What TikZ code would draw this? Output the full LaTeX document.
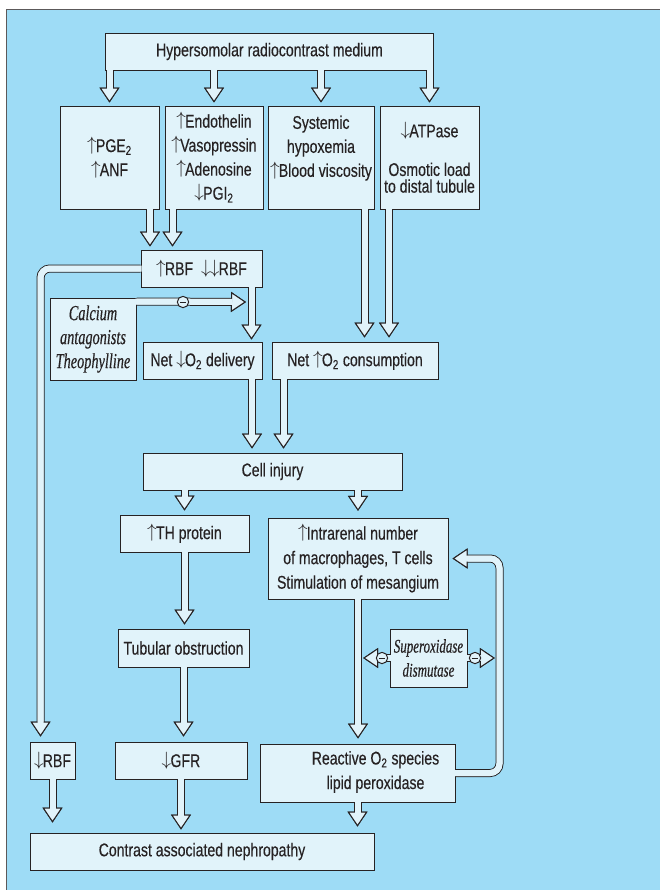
\documentclass[tikz,border=0pt]{standalone}
\usepackage{fontspec}
\setmainfont{Liberation Sans}[FakeStretch=0.765, FakeBold=0.3]
\newfontfamily\notefont{Liberation Serif}[FakeStretch=0.67, FakeBold=0.4]
\usetikzlibrary{positioning,calc,arrows.meta}
\definecolor{bgblue}{HTML}{9EDCF6}
\definecolor{boxfill}{HTML}{E1F3FA}
\definecolor{ink}{HTML}{262223}
\newcommand{\incr}{\raisebox{1.3pt}{$\uparrow$}\kern-0.6pt}
\newcommand{\decr}{\raisebox{1.3pt}{$\downarrow$}\kern-0.6pt}
\tikzset{font=\fontsize{13.8}{17}\selectfont}
\tikzset{
	box/.style={draw=ink, fill=boxfill, line width=0.75pt, text=ink, align=center, inner sep=1pt},
	boxwh/.style 2 args={minimum width=#1*0.75pt, minimum height=#2*0.75pt},
	note/.style={box, font=\notefont\itshape\fontsize{16}{18}\selectfont},
	flow/.style={draw=boxfill, line width=4.5pt, shorten >=#1,
		preaction={draw=ink, line width=6pt},
		-{Triangle[length=11.25pt, width=15pt, line width'=0.75pt, color=ink, fill=boxfill]},
		postaction={draw=boxfill, line width=4.5pt, arrows=-, shorten >=#1+10pt, shorten <=-0.9pt}},
	flow/.default=2.5pt,
	inhibit/.style={circle, draw=ink, fill=boxfill, line width=0.75pt, minimum size=8.5pt, inner sep=0pt,
		path picture={\draw[ink, line width=0.7pt] ([xshift=-2.4pt]path picture bounding box.center) -- ([xshift=2.4pt]path picture bounding box.center);}},
}

\begin{document}
\begin{tikzpicture}[x=0.75pt, y=-0.75pt]
	\useasboundingbox (0,0) rectangle (660,890);
	\fill[bgblue] (6.5,9.5) rectangle (660,890);
	\draw[ink!75, line width=0.75pt] (660,9.5) -- (6.5,9.5) -- (6.5,890);

	% boxes
	\node[box, boxwh={328}{37}] (hrm) at (269.5,51.5) {Hypersomolar radiocontrast medium};
	\node[box, boxwh={99}{103}] (pge) at (109.5,157.5) {\incr PGE\textsubscript{2}\\[1pt]\incr ANF};
	\node[box, boxwh={98}{103}] (endo) at (214,157.5) {\incr Endothelin\\[1pt]\incr Vasopressin\\[1pt]\incr Adenosine\\[1pt]\decr PGI\textsubscript{2}};
	\node[box, boxwh={106}{103}] (hyp) at (321,157.5) {Systemic\\[1pt]hypoxemia\\[1pt]\incr Blood viscosity\\\mbox{}};
	\node[box, boxwh={99}{103}] (atp) at (429.5,157.5) {\decr ATPase\\[12pt]Osmotic load\\[-4.5pt]to distal tubule};
	\node[box, boxwh={121}{37}] (rbf) at (201.5,268.5) {\incr RBF\hspace{6pt}\decr\decr RBF};
	\node[note, boxwh={86}{82}] (calc) at (93,339) {Calcium\\antagonists\\Theophylline};
	\node[box, boxwh={119}{37}] (deliv) at (202.5,360.5) {Net \decr O\textsubscript{2} delivery};
	\node[box, boxwh={166}{37}] (cons) at (355,360.5) {Net \incr O\textsubscript{2} consumption};
	\node[box, boxwh={259}{37}] (cell) at (272.5,471.5) {Cell injury};
	\node[box, boxwh={129}{37}] (th) at (184.5,533.5) {\incr TH protein};
	\node[box, boxwh={180}{81}] (intra) at (358,558.5) {\incr Intrarenal number\\[1.4pt]of macrophages, T cells\\[1.4pt]Stimulation of mesangium};
	\node[box, boxwh={131}{38}] (tub) at (183.5,648) {Tubular obstruction};
	\node[note, font=\notefont\itshape\fontsize{14.5}{18}\selectfont, boxwh={77}{58}] (sod) at (428.5,658) {Superoxidase\\dismutase};
	\node[box, boxwh={132}{37}] (gfr) at (181,760.5) {\decr GFR};
	\node[box, boxwh={45}{37}] (rbflow) at (52.5,760.5) {\decr RBF};
	\node[box, boxwh={195}{58}] (ros) at (357.5,773) {};
	\node[text=ink, align=center] (rostext) at (375.5,772) {Reactive O\textsubscript{2} species\\[1.4pt]lipid peroxidase};
	\node[box, boxwh={344}{37}] (can) at (202,851.5) {Contrast associated nephropathy};

	% arrow columns
	\coordinate (xpge) at (150,0);
	\coordinate (xendo) at (172.5,0);
	\coordinate (xrbf) at (251.5,0);
	\coordinate (xhyp) at (364.5,0);
	\coordinate (xatp) at (389,0);
	\coordinate (xdel) at (252,0);
	\coordinate (xcons) at (283.5,0);
	\coordinate (xleft) at (40.5,0);
	\coordinate (xright) at (499.5,0);
	\coordinate (block) at (247,302);
	\coordinate (sodl) at (362.5,658);
	\coordinate (sodr) at (495.5,658);

	% arrows
	\draw[flow=2.25pt] (hrm.south -| pge) -- (pge.north);
	\draw[flow=2.25pt] (hrm.south -| endo) -- (endo.north);
	\draw[flow=2.25pt] (hrm.south -| hyp) -- (hyp.north);
	\draw[flow=2.25pt] (hrm.south -| atp) -- (atp.north);
	\draw[flow=2.25pt] (pge.south -| xpge) -- (rbf.north -| xpge);
	\draw[flow=2.25pt] (endo.south -| xendo) -- (rbf.north -| xendo);
	\draw[flow=1.5pt] (rbf.south -| xrbf) -- (deliv.north -| xrbf);
	\draw[flow=3pt] (hyp.south -| xhyp) -- (cons.north -| xhyp);
	\draw[flow=3pt] (atp.south -| xatp) -- (cons.north -| xatp);
	\draw[flow=3pt] (deliv.south -| xdel) -- (cell.north -| xdel);
	\draw[flow=3pt] (cons.south -| xcons) -- (cell.north -| xcons);
	\draw[flow=3pt] (cell.south -| th) -- (th.north);
	\draw[flow=5pt] (cell.south -| intra) -- (intra.north);
	\draw[flow=3pt] (th.south) -- (th.south |- tub.north);
	\draw[flow=3.75pt] (tub.south) -- (tub.south |- gfr.north);
	\draw[flow=2.25pt] (gfr.south) -- (gfr.south |- can.north);
	\draw[flow=7.5pt] (rbflow.south) -- (rbflow.south |- can.north);
	\draw[flow=3.75pt] (intra.south) -- (intra.south |- ros.north);
	\draw[flow=4.5pt] (ros.south) -- (ros.south |- can.north);
	\draw[flow=3.75pt, rounded corners=7pt] (rbf.west) -| (xleft |- rbflow.north);
	\draw[flow=3pt, rounded corners=7pt] (ros.east) -- (ros.east -| xright) -- (intra.east -| xright) -- (intra.east);
	\draw[flow=0.75pt] ([yshift=-3pt]calc.north east) -- (block);
	\draw[flow=0.5pt] (sod.west) -- (sodl);
	\draw[flow=0.5pt] (sod.east) -- (sodr);
	\node[inhibit] (inh1) at (183,302) {};
	\node[inhibit] (inh2) at (382,658) {};
	\node[inhibit] (inh3) at (475,658) {};
\end{tikzpicture}
\end{document}
